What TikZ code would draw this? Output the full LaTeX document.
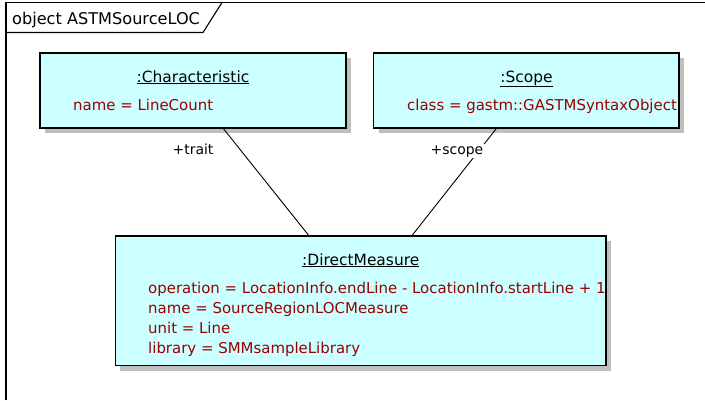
\documentclass[tikz,border=0pt]{standalone}
\usepackage{fontspec}
\setmainfont{DejaVu Sans}
\usetikzlibrary{shadows}
\definecolor{objfill}{HTML}{CCFFFF}
\definecolor{attrred}{HTML}{990000}
\begin{document}
\begin{tikzpicture}[x=1bp,y=-1bp,
  font=\fontsize{15}{18}\selectfont,
  objbox/.style={draw=black, line width=1.2bp, fill=objfill, rectangle, inner sep=0pt,
    drop shadow={opacity=1, fill=black!25, shadow xshift=5bp, shadow yshift=-5bp}},
  titletext/.style={anchor=base, inner sep=0pt, text=black, font=\fontsize{15.5}{18}\selectfont},
  attrtext/.style={anchor=base west, inner sep=0pt, text=attrred},
  rolelabel/.style={anchor=base, fill=white, inner sep=1.5bp, text=black, font=\fontsize{14}{16}\selectfont},
  link/.style={draw=black, line width=0.9bp},
  frameline/.style={draw=black, line width=1.1bp}]
\useasboundingbox (0,0) rectangle (705,400);

% frame
\draw[frameline] (6,400) -- (6,2.5) -- (705,2.5);
\draw[frameline] (6,32.5) -- (203,32.5) -- (222,2.5);
\node[anchor=base west, inner sep=0pt, font=\fontsize{16.2}{18}\selectfont] (hdr) at (12,24) {object ASTMSourceLOC};

% object boxes
\node[objbox, minimum width=306bp, minimum height=75bp] (ch) at (193,90.5) {};
\node[objbox, minimum width=305.5bp, minimum height=75bp] (sc) at (526.3,90.5) {};
\node[objbox, minimum width=490.5bp, minimum height=129.5bp] (dm) at (360.75,300.75) {};

% connectors
\draw[link] (ch) -- (dm);
\draw[link] (sc) -- (dm);
\node[rolelabel] (lt) at (193,154) {+trait};
\node[rolelabel] (ls) at (457,154) {+scope};

% texts
\node[titletext] (chT) at (193,82) {\underline{:Characteristic}};
\node[attrtext] (chA) at (73,110) {name = LineCount};

\node[titletext] (scT) at (526.5,82) {\underline{:Scope}};
\node[attrtext] (scA) at (407,110) {class = gastm::GASTMSyntaxObject};

\node[titletext] (dmT) at (360.75,265) {\underline{:DirectMeasure}};
\node[attrtext] (dmA1) at (148,293) {operation = LocationInfo.endLine - LocationInfo.startLine + 1};
\node[attrtext] (dmA2) at (148,313) {name = SourceRegionLOCMeasure};
\node[attrtext] (dmA3) at (148,333) {unit = Line};
\node[attrtext] (dmA4) at (148,353) {library = SMMsampleLibrary};
\end{tikzpicture}
\end{document}
